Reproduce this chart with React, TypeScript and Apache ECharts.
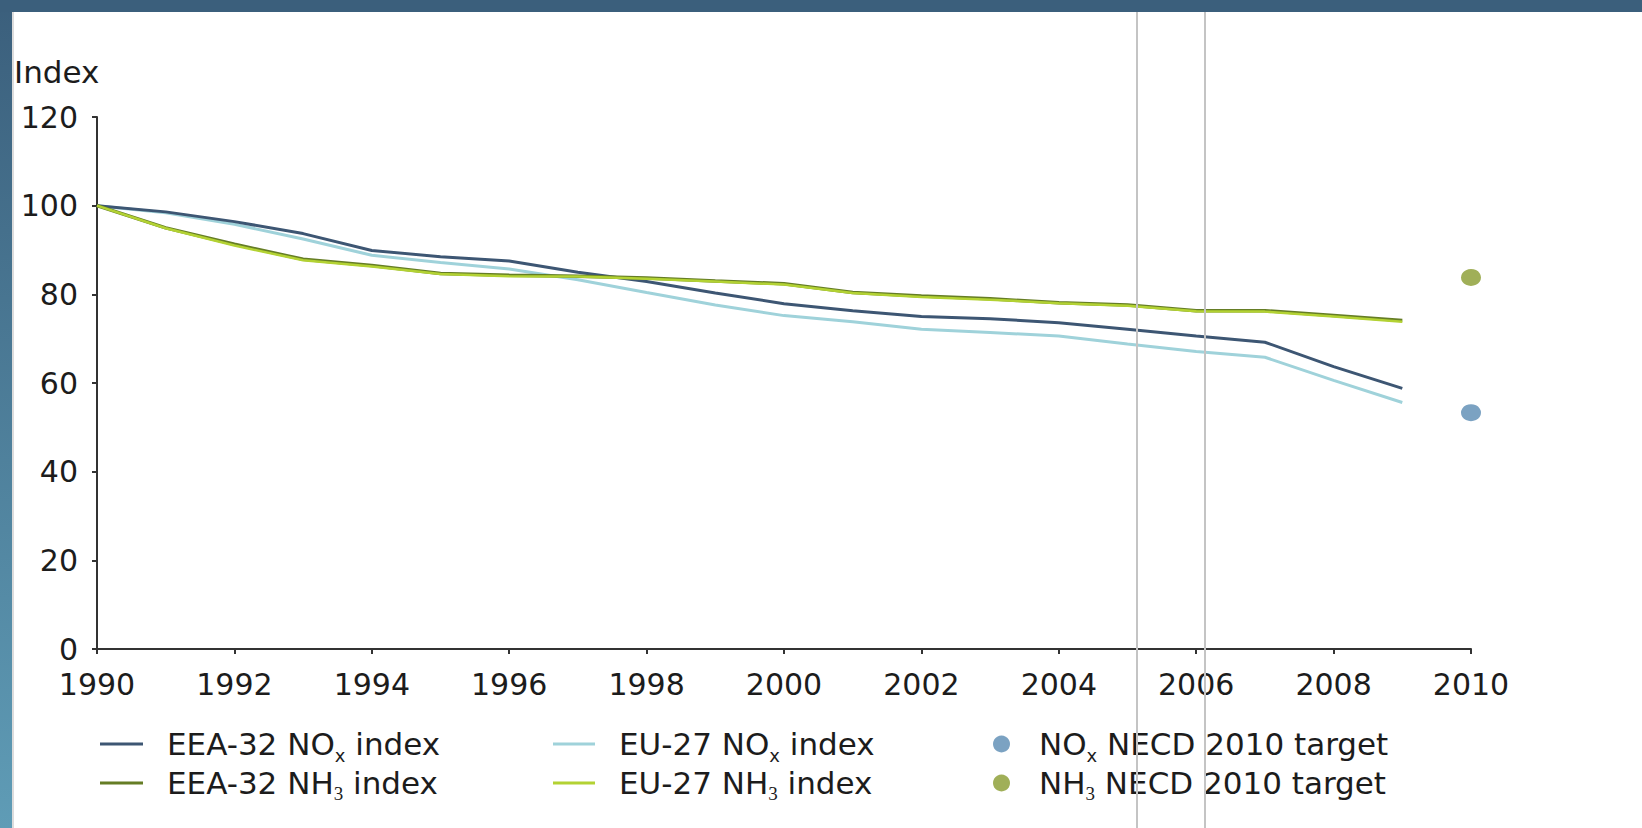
import React, { useEffect, useRef } from "react";
import * as echarts from "echarts";

const years = [1990, 1991, 1992, 1993, 1994, 1995, 1996, 1997, 1998, 1999, 2000, 2001, 2002, 2003, 2004, 2005, 2006, 2007, 2008, 2009];
const eeaNox = [100, 98.6, 96.4, 93.7, 89.9, 88.5, 87.5, 85.0, 82.9, 80.3, 77.9, 76.3, 75.0, 74.5, 73.6, 72.1, 70.6, 69.2, 63.7, 58.8];
const eu27Nox = [100, 98.4, 95.8, 92.5, 88.8, 87.2, 85.7, 83.3, 80.4, 77.6, 75.2, 73.8, 72.1, 71.4, 70.6, 68.8, 67.1, 65.8, 60.6, 55.6];
const eeaNh3 = [100, 95.0, 91.3, 87.9, 86.5, 84.7, 84.3, 84.1, 83.7, 83.0, 82.4, 80.4, 79.6, 79.0, 78.1, 77.6, 76.3, 76.3, 75.2, 74.1];
const eu27Nh3 = [100, 94.9, 91.0, 87.7, 86.3, 84.6, 84.1, 84.0, 83.5, 82.9, 82.2, 80.3, 79.4, 78.8, 78.0, 77.4, 76.2, 76.1, 75.0, 73.8];
const targetYear = 2010;
const noxTarget = 53.3;
const nh3Target = 83.8;

const names = [
  "EEA-32 NOx index",
  "EEA-32 NH3 index",
  "EU-27 NOx index",
  "EU-27 NH3 index",
  "NOx NECD 2010 target",
  "NH3 NECD 2010 target",
];

const FONT = "DejaVu Sans";
const TEXT = "#1c1c1c";
const C_EEA_NOX = "#3d5673";
const C_EU_NOX = "#9fd2da";
const C_EEA_NH3 = "#657d25";
const C_EU_NH3 = "#b3d233";
const C_T_NOX = "#5a8bb3";
const C_T_NH3 = "#889b2e";

const pairs = (vals: number[]) => years.map((y, i) => [y, vals[i]]);

const fmt = (name: string) => name.replace("NOx", "NO{x|x}").replace("NH3", "NH{t|3}");

const rich = {
  x: { fontFamily: FONT, fontSize: 18, color: TEXT, verticalAlign: "bottom" },
  t: { fontFamily: "Liberation Serif", fontSize: 19, color: TEXT, verticalAlign: "bottom" },
};

function legendItem(name: string, left: number, top: number, icon: string, w: number, h: number, padLeft: number) {
  return {
    data: [name],
    left,
    top,
    padding: 0,
    orient: "horizontal",
    icon,
    itemWidth: w,
    itemHeight: h,
    selectedMode: false,
    formatter: fmt,
    textStyle: {
      fontFamily: FONT,
      fontSize: 31,
      color: TEXT,
      lineHeight: 40,
      padding: [0, 0, 0, padLeft],
      rich,
    },
  };
}

export default function App() {
  const ref = useRef<HTMLDivElement>(null);

  useEffect(() => {
    if (!ref.current) return;
    const chart = echarts.init(ref.current, null, { renderer: "svg" });
    const axisColor = "#333333";
    const option: any = {
      animation: false,
      backgroundColor: "#ffffff",
      grid: { left: 97, right: 171, top: 117, bottom: 179 },
      xAxis: {
        type: "value",
        min: 1990,
        max: 2010,
        interval: 2,
        splitLine: { show: false },
        axisLine: { show: true, lineStyle: { color: axisColor, width: 2 } },
        axisTick: { show: true, length: 5, lineStyle: { color: axisColor, width: 2 } },
        axisLabel: {
          margin: 20,
          fontFamily: FONT,
          fontSize: 30,
          color: TEXT,
          formatter: (v: number) => String(v),
        },
      },
      yAxis: {
        type: "value",
        min: 0,
        max: 120,
        interval: 20,
        splitLine: { show: false },
        axisLine: { show: true, lineStyle: { color: axisColor, width: 2 } },
        axisTick: { show: true, length: 5, lineStyle: { color: axisColor, width: 2 } },
        axisLabel: { margin: 19, fontFamily: FONT, fontSize: 30, color: TEXT },
      },
      legend: [
        legendItem(names[0], 100, 724, "rect", 43, 3, 19),
        legendItem(names[1], 100, 763, "rect", 43, 3, 19),
        legendItem(names[2], 553, 724, "rect", 42, 3, 19),
        legendItem(names[3], 553, 763, "rect", 42, 3, 19),
        legendItem(names[4], 993, 724, "circle", 19, 17, 23),
        legendItem(names[5], 993, 763, "circle", 19, 17, 23),
      ],
      series: [
        {
          name: names[2],
          type: "line",
          data: pairs(eu27Nox),
          color: C_EU_NOX,
          showSymbol: false,
          symbol: "none",
          lineStyle: { color: C_EU_NOX, width: 3 },
          itemStyle: { color: C_EU_NOX },
          z: 2,
        },
        {
          name: names[0],
          type: "line",
          data: pairs(eeaNox),
          color: C_EEA_NOX,
          showSymbol: false,
          symbol: "none",
          lineStyle: { color: C_EEA_NOX, width: 3 },
          itemStyle: { color: C_EEA_NOX },
          z: 3,
        },
        {
          name: names[1],
          type: "line",
          data: pairs(eeaNh3),
          color: C_EEA_NH3,
          showSymbol: false,
          symbol: "none",
          lineStyle: { color: C_EEA_NH3, width: 3.5 },
          itemStyle: { color: C_EEA_NH3 },
          z: 4,
        },
        {
          name: names[3],
          type: "line",
          data: pairs(eu27Nh3),
          color: C_EU_NH3,
          showSymbol: false,
          symbol: "none",
          lineStyle: { color: C_EU_NH3, width: 2.5 },
          itemStyle: { color: C_EU_NH3 },
          z: 5,
        },
        {
          name: names[4],
          type: "scatter",
          data: [[targetYear, noxTarget]],
          symbol: "circle",
          symbolSize: [20, 17],
          clip: false,
          itemStyle: { color: C_T_NOX },
          z: 6,
        },
        {
          name: names[5],
          type: "scatter",
          data: [[targetYear, nh3Target]],
          symbol: "circle",
          symbolSize: [20, 17],
          clip: false,
          itemStyle: { color: C_T_NH3 },
          z: 6,
        },
      ],
      graphic: [
        {
          type: "rect",
          shape: { x: 0, y: 0, width: 12, height: 828 },
          style: {
            fill: new echarts.graphic.LinearGradient(0, 0, 0, 1, [
              { offset: 0, color: "#3b5f7c" },
              { offset: 1, color: "#5f9cb6" },
            ]),
          },
          z: 50,
        },
        {
          type: "rect",
          shape: { x: 0, y: 0, width: 1642, height: 12 },
          style: { fill: "#3b5f7c" },
          z: 51,
        },
        {
          type: "line",
          shape: { x1: 13, y1: 12, x2: 13, y2: 828 },
          style: { stroke: "#dcdcdc", lineWidth: 2 },
          z: 50,
        },
        {
          type: "line",
          shape: { x1: 1137, y1: 12, x2: 1137, y2: 828 },
          style: { stroke: "#c4c4c4", lineWidth: 2 },
          z: 100,
        },
        {
          type: "line",
          shape: { x1: 1205, y1: 12, x2: 1205, y2: 828 },
          style: { stroke: "#c4c4c4", lineWidth: 2 },
          z: 100,
        },
        {
          type: "text",
          x: 14,
          y: 72,
          style: {
            text: "Index",
            fontFamily: FONT,
            fontSize: 31,
            fill: TEXT,
            align: "left",
            verticalAlign: "middle",
          },
          z: 60,
        },
      ],
    };
    chart.setOption(option);
    return () => chart.dispose();
  }, []);

  return (
    <div
      ref={ref}
      style={{ position: "fixed", left: 0, top: 0, width: 1642, height: 828, background: "#ffffff" }}
    />
  );
}
